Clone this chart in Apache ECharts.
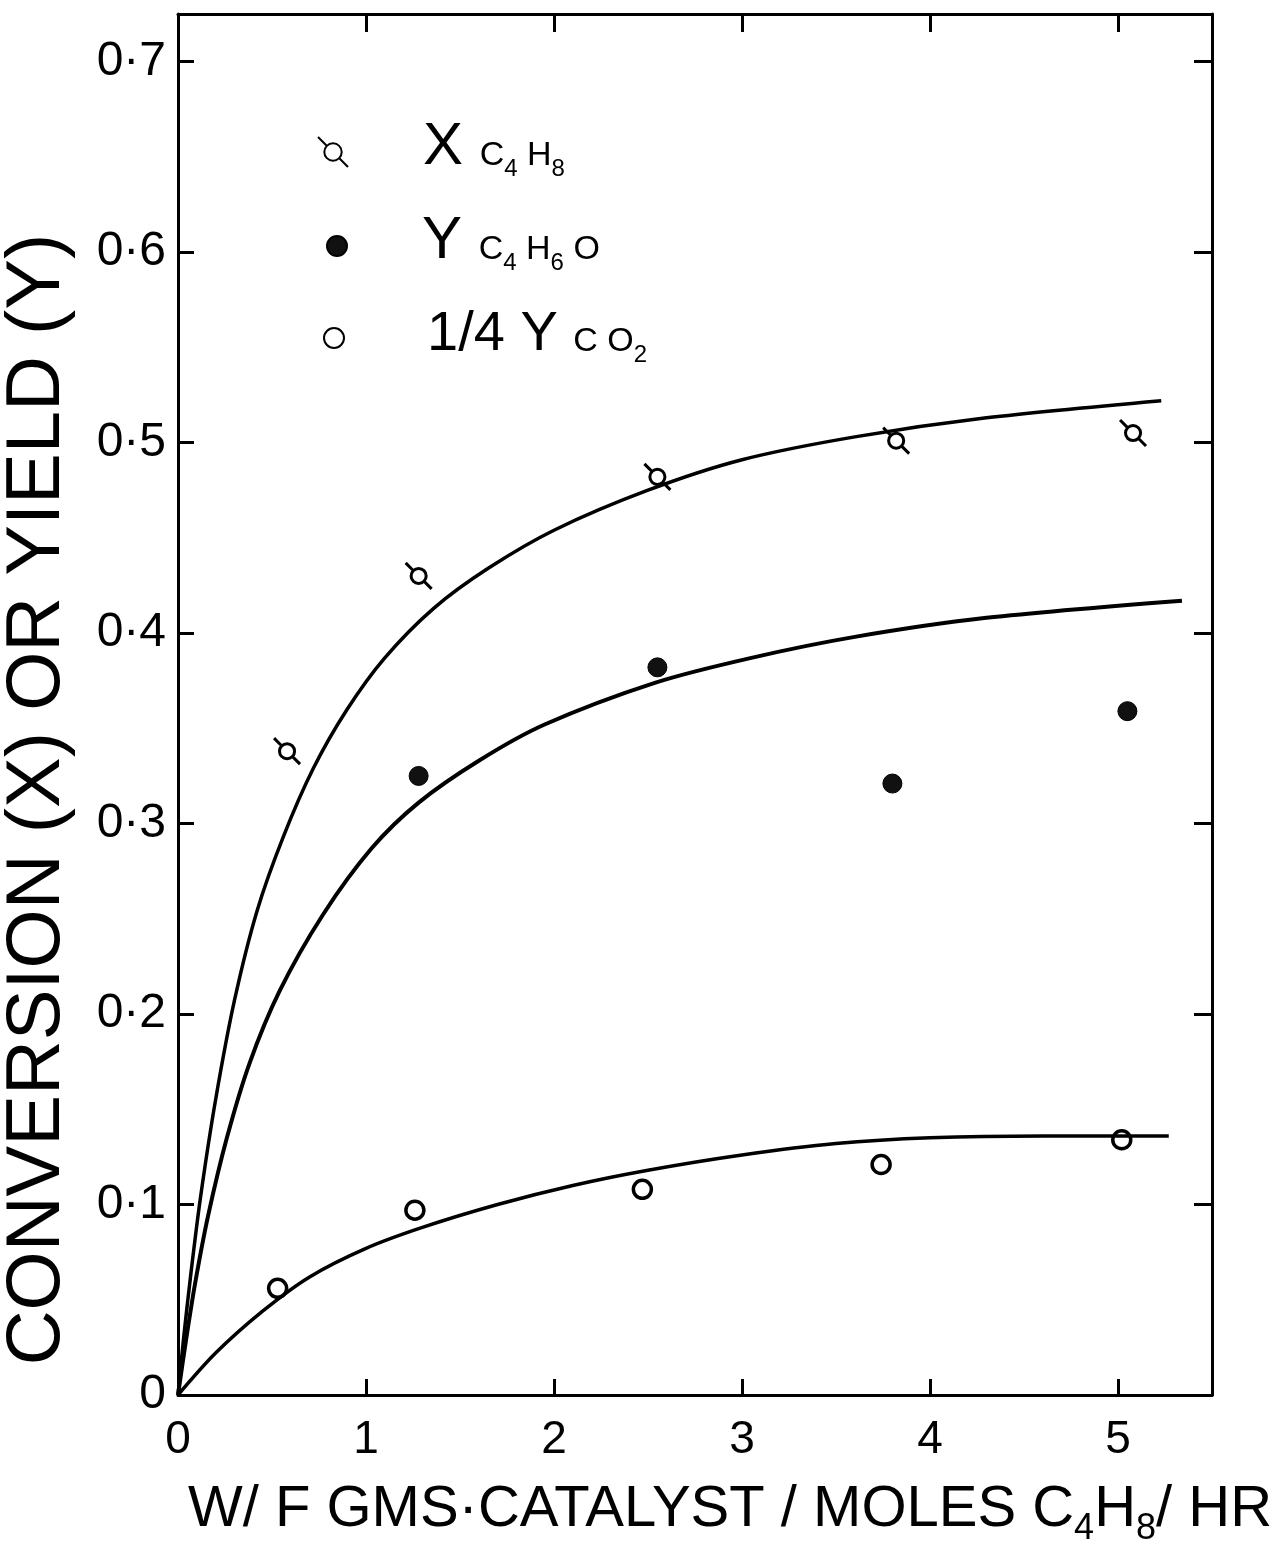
<!DOCTYPE html>
<html>
<head>
<meta charset="utf-8">
<script src="https://cdn.jsdelivr.net/npm/echarts@6/dist/echarts.min.js"></script>
<style>
  html, body { margin: 0; padding: 0; background: #fff; }
  #chart { width: 1270px; height: 1549px; }
</style>
</head>
<body>
<div id="chart"></div>
<script>
// measured points (W/F, conversion or yield)
const wfXc4h8 = [0.58, 1.28, 2.55, 3.82, 5.08];
const convXc4h8 = [0.338, 0.430, 0.482, 0.501, 0.505];
const wfYc4h6o = [1.28, 2.55, 3.80, 5.05];
const yieldYc4h6o = [0.325, 0.382, 0.321, 0.359];
const wfCo2 = [0.53, 1.26, 2.47, 3.74, 5.02];
const yieldCo2 = [0.056, 0.097, 0.108, 0.121, 0.134];

// hand drawn curves
const curveXc4h8W = [0, 0.03, 0.07, 0.12, 0.2, 0.3, 0.42, 0.56, 0.72, 0.9, 1.1, 1.36, 1.65, 2.0, 2.5, 3.0, 3.6, 4.3, 5.23];
const curveXc4h8V = [0, 0.030, 0.065, 0.104, 0.155, 0.207, 0.254, 0.293, 0.329, 0.360, 0.387, 0.413, 0.434, 0.454, 0.475, 0.491, 0.503, 0.513, 0.522];
const curveYc4h6oW = [0, 0.04, 0.09, 0.16, 0.26, 0.38, 0.54, 0.77, 1.03, 1.28, 1.6, 1.95, 2.54, 3.05, 3.6, 4.3, 5.34];
const curveYc4h6oV = [0, 0.027, 0.058, 0.094, 0.135, 0.174, 0.212, 0.252, 0.287, 0.311, 0.333, 0.352, 0.374, 0.387, 0.398, 0.408, 0.417];
const curveCo2W = [0, 0.2, 0.45, 0.7, 1.0, 1.3, 1.7, 2.1, 2.5, 3.0, 3.5, 4.0, 4.6, 5.27];
const curveCo2V = [0, 0.022, 0.044, 0.062, 0.077, 0.088, 0.100, 0.110, 0.118, 0.126, 0.132, 0.135, 0.136, 0.136];

const seriesNames = ['X C4H8', 'Y C4H6O', '1/4 Y CO2'];

const pair = (xs, ys) => xs.map((x, i) => [x, ys[i]]);

// circle with a diagonal stroke through it
const crossedCircle = 'path://M0,0L29,29M71,71L100,100M79,50A29,29,0,1,1,21,50A29,29,0,1,1,79,50Z';

const font = 'Liberation Sans';
const black = '#000';

const chart = echarts.init(document.getElementById('chart'));

// every token sits on the line bottom, bottom padding lifts it to a shared baseline
const richLegend = {
  gap: { width: 70 },
  gap3: { width: 78 },
  big: { fontSize: 60, lineHeight: 70, verticalAlign: 'bottom', padding: [0, 0, 10, 0], fontFamily: font, color: black },
  big3: { fontSize: 56, lineHeight: 70, verticalAlign: 'bottom', padding: [0, 0, 10, 0], fontFamily: font, color: black },
  m: { fontSize: 34, verticalAlign: 'bottom', padding: [0, 0, 14, 0], fontFamily: font, color: black },
  s: { fontSize: 24, verticalAlign: 'bottom', padding: [0, 0, 6, 0], fontFamily: font, color: black }
};

function legendAt(name, left, top, size, icon, text) {
  return {
    data: [name],
    left: left,
    top: top,
    padding: 0,
    orient: 'vertical',
    icon: icon,
    itemWidth: size,
    itemHeight: size,
    selectedMode: false,
    formatter: () => text,
    textStyle: { rich: richLegend }
  };
}

function axisLine() {
  return { show: true, onZero: false, lineStyle: { color: black, width: 3 } };
}

const option = {
  backgroundColor: '#fff',
  animation: false,
  grid: { left: 178, right: 58, top: 14, bottom: 154, containLabel: false, outerBoundsMode: 'none' },
  legend: [
    legendAt(seriesNames[0], 317, 117, 30, crossedCircle,
      '{gap|}{big|X }{m|C}{s|4}{m| H}{s|8}'),
    legendAt(seriesNames[1], 326, 211, 20, 'circle',
      '{gap|}{big|Y }{m|C}{s|4}{m| H}{s|6}{m| O}'),
    legendAt(seriesNames[2], 323, 307, 20, 'circle',
      '{gap3|}{big3|1/4 Y }{m|C O}{s|2}')
  ],
  xAxis: [{
    type: 'value',
    min: 0,
    max: 5.5,
    interval: 1,
    position: 'bottom',
    axisLine: axisLine(),
    axisTick: { inside: true, length: 16, lineStyle: { color: black, width: 3 } },
    splitLine: { show: false },
    axisLabel: {
      showMaxLabel: false,
      margin: 22,
      fontSize: 46,
      fontFamily: font,
      color: black,
      formatter: v => String(Math.round(v))
    },
    name: '{a|W/ F GMS·CATALYST / MOLES C}{s|4}{a|H}{s|8}{a|/ HR}',
    nameLocation: 'middle',
    nameGap: 86,
    nameTextStyle: {
      padding: [0, 0, 0, 70],
      rich: {
        a: { fontSize: 58, lineHeight: 66, verticalAlign: 'bottom', padding: [0, 0, 8, 0], fontFamily: font, color: black },
        s: { fontSize: 36, verticalAlign: 'bottom', padding: [0, 0, 0, 0], fontFamily: font, color: black }
      }
    }
  }, {
    type: 'value',
    min: 0,
    max: 5.5,
    interval: 1,
    position: 'top',
    axisLine: axisLine(),
    axisTick: { inside: true, length: 18, lineStyle: { color: black, width: 3 } },
    axisLabel: { show: false },
    splitLine: { show: false }
  }],
  yAxis: [{
    type: 'value',
    min: 0,
    max: 0.725,
    interval: 0.1,
    position: 'left',
    axisLine: axisLine(),
    axisTick: { inside: true, length: 16, lineStyle: { color: black, width: 3 } },
    splitLine: { show: false },
    axisLabel: {
      showMaxLabel: false,
      margin: 12,
      fontSize: 48,
      fontFamily: font,
      color: black,
      formatter: v => (v === 0 ? '0' : '0·' + Math.round(v * 10))
    },
    name: 'CONVERSION (X) OR YIELD (Y)',
    nameLocation: 'middle',
    nameGap: 102,
    nameTextStyle: {
      fontSize: 76,
      fontFamily: font,
      color: black,
      padding: [0, 190, 0, 0]
    }
  }, {
    type: 'value',
    min: 0,
    max: 0.725,
    interval: 0.1,
    position: 'right',
    axisLine: axisLine(),
    axisTick: { inside: true, length: 18, lineStyle: { color: black, width: 3 } },
    axisLabel: { show: false },
    splitLine: { show: false }
  }],
  series: [
    {
      type: 'line',
      data: pair(curveXc4h8W, curveXc4h8V),
      symbol: 'none',
      smooth: 0.3,
      lineStyle: { color: black, width: 3.5 },
      silent: true
    },
    {
      type: 'line',
      data: pair(curveYc4h6oW, curveYc4h6oV),
      symbol: 'none',
      smooth: 0.3,
      lineStyle: { color: black, width: 4 },
      silent: true
    },
    {
      type: 'line',
      data: pair(curveCo2W, curveCo2V),
      symbol: 'none',
      smooth: 0.3,
      lineStyle: { color: black, width: 3.5 },
      silent: true
    },
    {
      name: seriesNames[0],
      type: 'scatter',
      data: pair(wfXc4h8, convXc4h8),
      symbol: crossedCircle,
      symbolSize: 26,
      itemStyle: { color: '#fff', borderColor: black, borderWidth: 3, opacity: 1 }
    },
    {
      name: seriesNames[1],
      type: 'scatter',
      data: pair(wfYc4h6o, yieldYc4h6o),
      symbol: 'circle',
      symbolSize: 19,
      itemStyle: { color: '#111', borderColor: black, borderWidth: 1, opacity: 1 }
    },
    {
      name: seriesNames[2],
      type: 'scatter',
      data: pair(wfCo2, yieldCo2),
      symbol: 'circle',
      symbolSize: 18,
      itemStyle: { color: '#fff', borderColor: black, borderWidth: 3.5, opacity: 1 }
    }
  ]
};

chart.setOption(option);
</script>
</body>
</html>
